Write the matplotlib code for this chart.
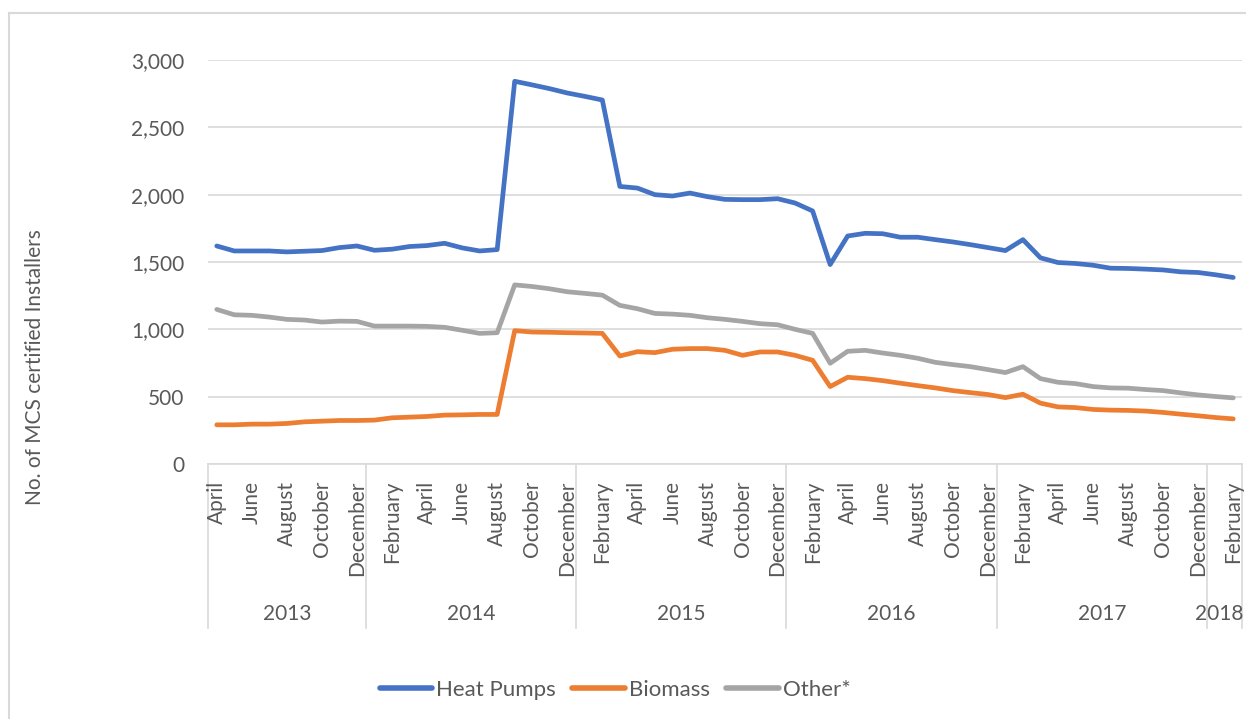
import matplotlib
matplotlib.use("Agg")
import matplotlib.pyplot as plt
from matplotlib.lines import Line2D
from matplotlib.ticker import FuncFormatter

plt.rcParams["font.family"] = ["Lato", "DejaVu Sans"]

# Monthly series, April 2013 - February 2018
month_names = ["January", "February", "March", "April", "May", "June", "July",
               "August", "September", "October", "November", "December"]
start_month = 4
start_year = 2013
years = [2013, 2014, 2015, 2016, 2017, 2018]

heat_pumps = [1619, 1582, 1582, 1582, 1575, 1580, 1585, 1607, 1619,
              1587, 1595, 1615, 1622, 1639, 1605, 1582, 1592, 2842, 2815, 2787, 2755,
              2730, 2703, 2061, 2049, 2000, 1990, 2012, 1985, 1965, 1963, 1963, 1970,
              1938, 1879, 1481, 1693, 1713, 1710, 1684, 1684, 1666, 1649, 1629, 1607,
              1585, 1666, 1531, 1496, 1489, 1476, 1454, 1452, 1447, 1441, 1427, 1422,
              1405, 1385]
biomass = [291, 291, 296, 296, 301, 313, 318, 323, 323,
           326, 343, 348, 353, 363, 365, 368, 368, 990, 980, 978, 975,
           973, 970, 802, 834, 827, 852, 857, 857, 844, 807, 832, 832,
           807, 770, 575, 644, 634, 619, 600, 582, 565, 545, 530, 516,
           493, 518, 452, 424, 419, 405, 400, 398, 393, 383, 370, 358,
           345, 335]
other = [1148, 1108, 1104, 1091, 1074, 1069, 1054, 1061, 1059,
         1024, 1024, 1024, 1022, 1015, 993, 970, 975, 1330, 1318, 1301, 1279,
         1267, 1254, 1178, 1153, 1118, 1113, 1104, 1086, 1074, 1059, 1042, 1034,
         1000, 970, 748, 837, 844, 824, 807, 785, 755, 738, 723, 701,
         679, 723, 634, 607, 597, 575, 565, 563, 553, 545, 528, 513,
         501, 491]

series = [("Heat Pumps", heat_pumps, "#4472C4"),
          ("Biomass", biomass, "#ED7D31"),
          ("Other*", other, "#A5A5A5")]

text_color = "#595959"
grid_color = "#D9D9D9"
fs = 15

n = len(heat_pumps)
xs = list(range(n))
month_idx = [(start_month - 1 + i) % 12 for i in xs]
year_of = [start_year + (start_month - 1 + i) // 12 for i in xs]

W, H = 1246, 719
fig = plt.figure(figsize=(W / 100, H / 100), dpi=100)
ax = fig.add_axes([208 / W, 1 - 464 / H, 1034 / W, 404 / H])

for name, vals, col in series:
    ax.plot(xs, vals, color=col, lw=3.4, solid_capstyle="round",
            solid_joinstyle="round", label=name, zorder=3)

ax.set_xlim(-0.5, n - 0.5)
ax.set_ylim(0, 3000)
ax.set_yticks(range(0, 3001, 500))
ax.yaxis.set_major_formatter(FuncFormatter(lambda v, p: f"{int(v):,}"))
ax.tick_params(axis="y", length=0, pad=17, labelsize=fs, labelcolor=text_color)
ax.set_xticks([])
ax.grid(axis="y", color=grid_color, lw=1.2, zorder=0)
for s in ["top", "right", "left"]:
    ax.spines[s].set_visible(False)
ax.spines["bottom"].set_color(grid_color)
ax.spines["bottom"].set_linewidth(1.2)

# Two-level category axis: every other month, then the year
tr = ax.get_xaxis_transform()
for i in xs:
    if i % 2 == 0:
        ax.text(i, -17 / 404, month_names[month_idx[i]], rotation=90,
                ha="center", va="top", fontsize=fs, color=text_color,
                transform=tr, clip_on=False)

bounds = [-0.5]
for i in range(1, n):
    if year_of[i] != year_of[i - 1]:
        bounds.append(i - 0.5)
bounds.append(n - 0.5)
for b in bounds:
    ax.plot([b, b], [0, -164 / 404], color=grid_color, lw=1.2,
            transform=tr, clip_on=False)
for k, yr in enumerate(years):
    mid = (bounds[k] + bounds[k + 1]) / 2
    if k == len(years) - 1:
        # narrow last group: keep the label inside the figure edge
        ax.text(bounds[k + 1] + 0.05, -150 / 404, str(yr), ha="right",
                va="center", fontsize=fs, color=text_color, transform=tr,
                clip_on=False)
    else:
        ax.text(mid, -150 / 404, str(yr), ha="center", va="center",
                fontsize=fs, color=text_color, transform=tr, clip_on=False)

fig.text(35 / W, 1 - 367 / H, "No. of MCS certified Installers", rotation=90,
         ha="center", va="center", fontsize=fs, color=text_color)

handles = [Line2D([0], [0], color=c, lw=4, solid_capstyle="round")
           for _, _, c in series]
fig.legend(handles, [s[0] for s in series], loc="center",
           bbox_to_anchor=(615 / W, 1 - 690 / H), ncol=3, frameon=False,
           fontsize=16, labelcolor=text_color, handlelength=2.35,
           handletextpad=0.18, columnspacing=0.75)

# chart-area frame
fig.add_artist(Line2D([9 / W, 9 / W], [0, 1 - 12.5 / H], color=grid_color,
                      lw=1.5, transform=fig.transFigure))
fig.add_artist(Line2D([9 / W, 1], [1 - 12.5 / H, 1 - 12.5 / H],
                      color=grid_color, lw=1.5, transform=fig.transFigure))

fig.savefig("out.png", dpi=100, facecolor="white")
